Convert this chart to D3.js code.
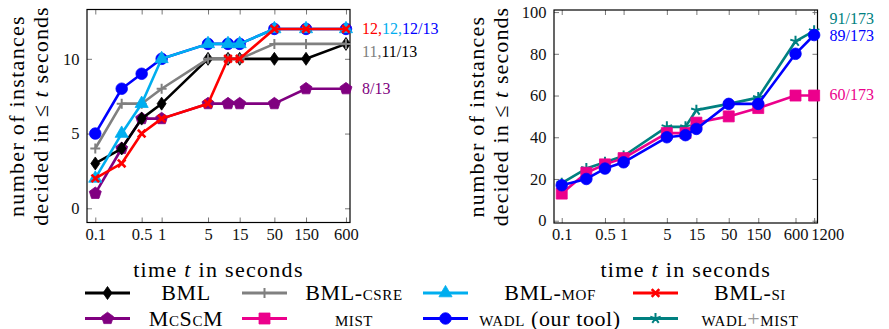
<!DOCTYPE html>
<html>
<head>
<meta charset="utf-8">
<script src="https://cdn.jsdelivr.net/npm/d3@7"></script>
<style>
body { margin: 0; background: #fff; font-family: 'Liberation Serif', serif; }
</style>
</head>
<body>
<div id="chart-area"></div>
<script>
// time points (seconds)
var timesA = [0.1, 0.25, 0.5, 1, 5, 10, 15, 50, 150, 600];
var timesB = [0.1, 0.25, 0.5, 1, 5, 10, 15, 50, 150, 600, 1200];
var xTicksA = [0.1, 0.5, 1, 5, 15, 50, 150, 600];
var xTicksB = [0.1, 0.5, 1, 5, 15, 50, 150, 600, 1200];
var yTicksA = [0, 5, 10];
var yTicksB = [0, 20, 40, 60, 80, 100];

// left plot, 13 instances
var bml     = [3, 4, 6, 7, 10, 10, 10, 10, 10, 11];
var bmlCsre = [4, 7, 7, 8, 10, 10, 10, 11, 11, 11];
var bmlMof  = [2, 5, 7, 10, 11, 11, 11, 12, 12, 12];
var bmlSi   = [2, 3, 5, 6, 7, 10, 10, 12, 12, 12];
var mcscm   = [1, 4, 6, 6, 7, 7, 7, 7, 8, 8];
var wadlA   = [5, 8, 9, 10, 11, 11, 11, 12, 12, 12];

// right plot, 173 instances
var wadlMist = [18, 25, 28, 31, 45, 45, 53, 56, 59, 86, 91];
var mist     = [13, 23, 27, 30, 42, 42, 47, 50, 54, 60, 60];
var wadlB    = [17, 20, 25, 28, 40, 41, 44, 56, 56, 80, 89];

var totalA = 13, totalB = 173;

// tool styles ({..} = small caps)
var tools = {
	bml:      {label: "BML",             color: "#000000", mark: "diamond"},
	bmlCsre:  {label: "BML-{csre}",      color: "#808080", mark: "plus"},
	bmlMof:   {label: "BML-{mof}",       color: "#00aeef", mark: "triangle"},
	bmlSi:    {label: "BML-{si}",        color: "#ff0000", mark: "x"},
	mcscm:    {label: "M{c}S{c}M",       color: "#800080", mark: "pentagon"},
	mist:     {label: "{mist}",          color: "#ec008c", mark: "square"},
	wadl:     {label: "{wadl} (our tool)", color: "#0000ff", mark: "circle"},
	wadlMist: {label: "{wadl}+{mist}",   color: "#008080", mark: "star"}
};
var legendOrder = ["bml", "bmlCsre", "bmlMof", "bmlSi", "mcscm", "mist", "wadl", "wadlMist"];

var font = "'Liberation Serif', serif";

var svg = d3.select("#chart-area").append("svg")
	.attr("width", 889)
	.attr("height", 329);

function markPath(type) {
	if (type == "diamond") return "M0,-6.5L4.5,0L0,6.5L-4.5,0Z";
	if (type == "plus") return "M-5,0H5M0,-5V5";
	if (type == "x") return "M-3.8,-3.8L3.8,3.8M-3.8,3.8L3.8,-3.8";
	if (type == "triangle") return d3.symbol(d3.symbolTriangle, 75)();
	if (type == "square") return "M-5.5,-5.5H5.5V5.5H-5.5Z";
	if (type == "circle") return d3.symbol(d3.symbolCircle, 105)();
	if (type == "pentagon") {
		var p = d3.range(5).map((i) => {
			var a = -Math.PI / 2 + i * 2 * Math.PI / 5;
			return [6.3 * Math.cos(a), 6.3 * Math.sin(a)];
		});
		return "M" + p.join("L") + "Z";
	}
	if (type == "star") {
		return d3.range(5).map((i) => {
			var a = -Math.PI / 2 + i * 2 * Math.PI / 5;
			return "M0,0L" + (5.5 * Math.cos(a)) + "," + (5.5 * Math.sin(a));
		}).join("");
	}
}

function addMark(g, type, color, x, y) {
	var stroked = (type == "plus" || type == "x" || type == "star");
	g.append("path")
		.attr("d", markPath(type))
		.attr("transform", "translate(" + x + "," + y + ")")
		.attr("fill", stroked ? "none" : color)
		.attr("stroke", color)
		.attr("stroke-width", stroked ? (type == "x" ? 2.6 : 2) : 0.8)
		.attr("stroke-linejoin", "round");
}

// label text with {small caps} parts
function richText(t, str) {
	str.split(/(\{[^}]*\}|\+)/).forEach((part) => {
		if (!part) return;
		if (part[0] == "{") {
			t.append("tspan").style("font-variant", "small-caps").text(part.slice(1, -1));
		} else if (part == "+") {
			t.append("tspan").attr("fill", "#999").text("+");
		} else {
			t.append("tspan").text(part);
		}
	});
}

function drawPlot(cfg) {
	var x = d3.scaleLog().domain(cfg.xDom).range([cfg.left, cfg.right]);
	var y = d3.scaleLinear().domain(cfg.yDom).range([cfg.bottom, cfg.top]);
	var g = svg.append("g");

	// ticks on all four sides, pointing inwards
	var fmt = (d) => d;
	g.append("g").attr("transform", "translate(0," + cfg.bottom + ")")
		.call(d3.axisBottom(x).tickValues(cfg.xTicks).tickSize(-5).tickPadding(5.5).tickFormat(fmt))
		.selectAll(".tick text")
		.attr("dx", (d) => d == 1200 ? 13 : 0);
	g.append("g").attr("transform", "translate(0," + cfg.top + ")")
		.call(d3.axisTop(x).tickValues(cfg.xTicks).tickSize(-5).tickFormat(""));
	g.append("g").attr("transform", "translate(" + cfg.left + ",0)")
		.call(d3.axisLeft(y).tickValues(cfg.yTicks).tickSize(-5).tickPadding(7.5));
	g.append("g").attr("transform", "translate(" + cfg.right + ",0)")
		.call(d3.axisRight(y).tickValues(cfg.yTicks).tickSize(-5).tickFormat(""));
	g.selectAll(".domain").remove();
	g.selectAll(".tick line").attr("stroke", "#6a6a6a").attr("stroke-width", 0.9);
	g.selectAll(".tick text").attr("font-size", "16.5px").attr("fill", "#111");

	g.append("rect")
		.attr("x", cfg.left).attr("y", cfg.top)
		.attr("width", cfg.right - cfg.left).attr("height", cfg.bottom - cfg.top)
		.attr("fill", "none").attr("stroke", "#000").attr("stroke-width", 1.2);

	var line = d3.line().x((d) => x(d[0])).y((d) => y(d[1]));
	cfg.series.forEach((s) => {
		var st = tools[s.tool];
		var pts = cfg.times.map((t, i) => [t, s.values[i]]);
		g.append("path")
			.attr("d", line(pts))
			.attr("fill", "none")
			.attr("stroke", st.color)
			.attr("stroke-width", 2.6)
			.attr("stroke-linejoin", "round");
		pts.forEach((p) => addMark(g, st.mark, st.color, x(p[0]), y(p[1])));
	});

	// final counts next to the plot
	cfg.endLabels.forEach((lab) => {
		var t = g.append("text")
			.attr("x", cfg.right + 12)
			.attr("y", y(lab.value) + lab.dy + 5.5)
			.attr("font-size", "16px");
		lab.parts.forEach((p, i) => {
			var last = i == lab.parts.length - 1;
			var v = p.values[p.values.length - 1];
			t.append("tspan").attr("fill", tools[p.tool].color)
				.text(v + (last ? "/" + cfg.total : ","));
		});
	});

	// axis labels
	var midX = (cfg.left + cfg.right) / 2;
	var midY = (cfg.top + cfg.bottom) / 2;
	var xl = g.append("text")
		.attr("x", midX).attr("y", 277)
		.attr("text-anchor", "middle")
		.attr("font-size", "22px")
		.attr("letter-spacing", "1.3px");
	xl.append("tspan").text("time ");
	xl.append("tspan").style("font-style", "italic").text("t");
	xl.append("tspan").text(" in seconds");

	g.append("text")
		.attr("transform", "translate(" + (cfg.left - cfg.yLabelGap) + "," + midY + ") rotate(-90)")
		.attr("text-anchor", "middle")
		.attr("font-size", "22px")
		.attr("letter-spacing", "1.3px")
		.text("number of instances");
	var yl = g.append("text")
		.attr("transform", "translate(" + (cfg.left - cfg.yLabelGap + 24) + "," + midY + ") rotate(-90)")
		.attr("text-anchor", "middle")
		.attr("font-size", "22px")
		.attr("letter-spacing", "1.1px");
	yl.append("tspan").text("decided in \u2264 ");
	yl.append("tspan").style("font-style", "italic").text("t");
	yl.append("tspan").text(" seconds");
}

drawPlot({
	left: 87, right: 350, top: 9.5, bottom: 222.5,
	xDom: [0.075, 690], yDom: [-0.95, 13.3],
	xTicks: xTicksA, yTicks: yTicksA, times: timesA, total: totalA,
	yLabelGap: 63,
	series: [
		{tool: "wadl", values: wadlA},
		{tool: "mcscm", values: mcscm},
		{tool: "bml", values: bml},
		{tool: "bmlCsre", values: bmlCsre},
		{tool: "bmlMof", values: bmlMof},
		{tool: "bmlSi", values: bmlSi}
	],
	endLabels: [
		{value: 12, dy: 0, parts: [{tool: "bmlSi", values: bmlSi}, {tool: "bmlMof", values: bmlMof}, {tool: "wadl", values: wadlA}]},
		{value: 11, dy: 8, parts: [{tool: "bmlCsre", values: bmlCsre}, {tool: "bml", values: bml}]},
		{value: 8, dy: 0, parts: [{tool: "mcscm", values: mcscm}]}
	]
});

drawPlot({
	left: 554, right: 817.5, top: 10, bottom: 223,
	xDom: [0.075, 1360], yDom: [-1.1, 101],
	xTicks: xTicksB, yTicks: yTicksB, times: timesB, total: totalB,
	yLabelGap: 70,
	series: [
		{tool: "wadlMist", values: wadlMist},
		{tool: "mist", values: mist},
		{tool: "wadl", values: wadlB}
	],
	endLabels: [
		{value: 91, dy: -12, parts: [{tool: "wadlMist", values: wadlMist}]},
		{value: 89, dy: 0, parts: [{tool: "wadl", values: wadlB}]},
		{value: 60, dy: -1, parts: [{tool: "mist", values: mist}]}
	]
});

// legend, 4 columns x 2 rows
var legCols = [85, 242, 423, 633];
var legText = [186, 354, 550, 750];
var legRows = [293, 318.5];
var leg = svg.append("g");
legendOrder.forEach((k, i) => {
	var st = tools[k];
	var c = i % 4, r = Math.floor(i / 4);
	var x0 = legCols[c], yy = legRows[r];
	leg.append("line")
		.attr("x1", x0).attr("x2", x0 + 45)
		.attr("y1", yy).attr("y2", yy)
		.attr("stroke", st.color).attr("stroke-width", 3);
	addMark(leg, st.mark, st.color, x0 + 22.5, yy);
	var t = leg.append("text")
		.attr("x", legText[c]).attr("y", yy + 7)
		.attr("text-anchor", "middle")
		.attr("font-size", "22px")
		.attr("letter-spacing", "0.6px");
	richText(t, st.label);
});

// serif everywhere (inline style beats the axis defaults)
svg.selectAll("text").style("font-family", font);
</script>
</body>
</html>
